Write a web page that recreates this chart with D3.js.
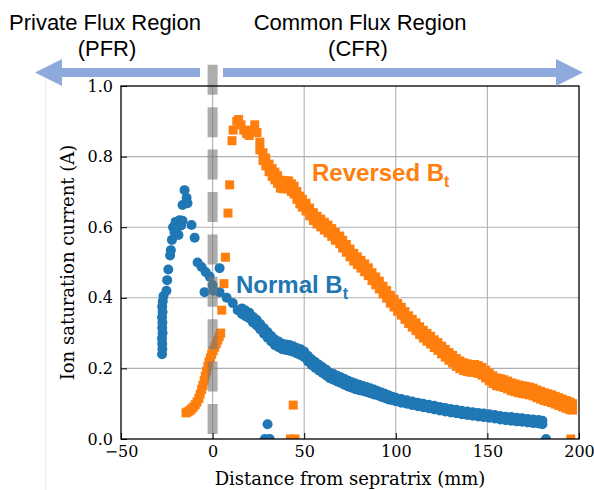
<!DOCTYPE html>
<html>
<head>
<meta charset="utf-8">
<script src="https://cdn.jsdelivr.net/npm/d3@7"></script>
<style>
  html, body { margin: 0; padding: 0; background: #fff; }
  svg { display: block; }
</style>
</head>
<body>
<svg id="chart" width="594" height="490"></svg>
<script>
// ---------------- DATA ----------------
const xTicks = [-50, 0, 50, 100, 150, 200];
const yTicks = [0.0, 0.2, 0.4, 0.6, 0.8, 1.0];
const xLabel = "Distance from sepratrix (mm)";
const yLabel = "Ion saturation current (A)";
const regionLeft = ["Private Flux Region", "(PFR)"];
const regionRight = ["Common Flux Region", "(CFR)"];

// Normal Bt (blue circles) — private-flux peak and separatrix points
const normalCoreX = [
  -27.6,-27.4,-27.5,-27.6,-27.3,-27.5,-27.4,-27.6,-27.3,-27.5,-27.2,-26.8,
  -25.2,-24.8,-24.2,-23.2,-22.8,-22.2,-21.6,-20.2,-18.0,-16.4,-20.8,-18.6,-19.5,-17.2,
  -16.4,-14.2,-13.7,-15.3,-11.5,-9.8,-8.2,-6.0,-3.8,-1.6,3.8,0.0,-4.4,0.5,3.8,7.7,11.0,13.7
];
const normalCoreY = [
  0.240,0.255,0.270,0.285,0.300,0.315,0.330,0.345,0.360,0.375,0.390,0.405,
  0.420,0.450,0.480,0.520,0.535,0.564,0.600,0.615,0.620,0.618,0.586,0.578,0.600,0.605,
  0.663,0.683,0.668,0.705,0.606,0.570,0.500,0.487,0.473,0.460,0.484,0.436,0.416,0.420,0.416,0.400,0.385,0.365
];
// Normal Bt common-flux decay: upper and lower edge of the band of points
const normalTailX = [
  16,18,20,22,24,26,28,30,32,34,36,38,40,42,44,46,48,50,
  52,54,56,58,60,62,64,66,68,70,72,74,76,78,80,82,
  84,86,88,90,92,94,96,98,100,103,106,109,112,115,118,121,
  124,127,130,133,136,139,142,145,148,151,154,157,160,163,166,169,
  172,175,178,180
];
const normalTailHi = [
  0.370,0.364,0.358,0.346,0.338,0.326,0.314,0.303,0.292,0.282,0.276,0.270,0.268,0.266,0.263,0.258,0.254,0.248,
  0.236,0.226,0.218,0.210,0.203,0.196,0.188,0.184,0.179,0.175,0.170,0.165,0.161,0.157,0.154,0.150,
  0.147,0.144,0.140,0.136,0.132,0.128,0.124,0.120,0.117,0.113,0.110,0.106,0.103,0.100,0.097,0.094,
  0.091,0.088,0.085,0.083,0.080,0.078,0.076,0.074,0.072,0.070,0.068,0.065,0.063,0.062,0.060,0.059,
  0.057,0.055,0.054,0.052
];
const normalTailLo = [
  0.354,0.348,0.342,0.330,0.322,0.310,0.298,0.287,0.276,0.266,0.260,0.254,0.252,0.250,0.247,0.242,0.238,0.232,
  0.220,0.210,0.202,0.194,0.187,0.180,0.172,0.168,0.163,0.159,0.154,0.149,0.145,0.141,0.138,0.136,
  0.133,0.130,0.126,0.124,0.120,0.116,0.112,0.110,0.107,0.103,0.100,0.096,0.093,0.090,0.087,0.084,
  0.081,0.078,0.075,0.073,0.070,0.068,0.066,0.064,0.062,0.060,0.058,0.055,0.053,0.052,0.050,0.049,
  0.047,0.045,0.044,0.042
];
const normalOutX = [30.0, 28.5, 31.2, 182.0];
const normalOutY = [0.042, 0.000, 0.000, 0.000];

// Reversed Bt (orange squares) — rise across the separatrix and peak
const reversedCoreX = [
  -14.5,-13.5,-12.5,-11.5,-10.5,-9.5,-8.5,-7.5,-6.8,-6.0,-5.3,-4.6,-4.0,-3.3,-2.6,-2.0,-1.2,-0.5,0.3,1.2,2.0,2.8,3.6,4.4,
  5.0,6.2,7.0,8.4,9.3,
  10.6,11.2,13.2,14.2,15.5,17,18.6,20,21.5,23,24.2
];
const reversedCoreY = [
  0.074,0.077,0.080,0.085,0.090,0.097,0.105,0.115,0.127,0.140,0.152,0.165,0.178,0.192,0.205,0.218,0.230,0.240,0.250,0.260,0.270,0.280,0.290,0.300,
  0.365,0.440,0.515,0.640,0.720,
  0.845,0.875,0.900,0.905,0.890,0.875,0.865,0.860,0.875,0.890,0.868
];
// Reversed Bt common-flux decay: upper and lower edge of the band of points
const reversedTailX = [
  25.8,27.5,29,30.8,32.5,34,35.5,37,38.5,40,41.5,43,44.5,46,47.6,49,
  51,53,55,57,59,61,63,65,67,69.4,71,73,75,77,79,81,83,85,87,89,
  91,93,95,97,99,101,103,105,107,109,111,113,115,117,119,121,
  123,125,127,129,131,133,135,137,139,141,143,145,147,149,151,153,
  155,157,159,161,163,165,167,169,171,173,175,177,179,181,183,185,
  187,189,191,193,195,196.5
];
const reversedTailHi = [
  0.841,0.811,0.796,0.779,0.766,0.756,0.746,0.733,0.731,0.731,0.731,0.723,0.716,0.701,0.688,0.679,
  0.668,0.654,0.641,0.631,0.623,0.614,0.606,0.596,0.585,0.575,0.563,0.551,0.538,0.526,0.516,0.506,0.496,0.485,0.471,0.459,
  0.447,0.433,0.421,0.407,0.396,0.384,0.373,0.361,0.349,0.339,0.329,0.318,0.308,0.299,0.291,0.281,
  0.273,0.263,0.254,0.245,0.237,0.228,0.221,0.216,0.213,0.211,0.211,0.208,0.203,0.195,0.187,0.179,
  0.173,0.171,0.168,0.164,0.159,0.156,0.153,0.151,0.149,0.147,0.144,0.139,0.135,0.131,0.128,0.125,
  0.121,0.117,0.113,0.109,0.105,0.100
];
const reversedTailLo = [
  0.819,0.789,0.774,0.757,0.744,0.734,0.724,0.711,0.709,0.709,0.709,0.701,0.694,0.679,0.666,0.657,
  0.646,0.632,0.619,0.609,0.601,0.592,0.584,0.574,0.563,0.553,0.541,0.529,0.516,0.504,0.494,0.484,0.474,0.463,0.449,0.437,
  0.425,0.411,0.399,0.385,0.374,0.362,0.351,0.339,0.327,0.317,0.307,0.296,0.286,0.277,0.269,0.259,
  0.251,0.241,0.232,0.223,0.215,0.206,0.199,0.194,0.191,0.189,0.189,0.186,0.181,0.173,0.165,0.157,
  0.151,0.149,0.146,0.142,0.137,0.134,0.131,0.129,0.127,0.125,0.122,0.117,0.113,0.109,0.106,0.103,
  0.099,0.095,0.091,0.087,0.083,0.082
];
const reversedOutX = [44.0, 42.5, 45.0, 195.5];
const reversedOutY = [0.096, 0.000, 0.000, 0.000];

// ---------------- LAYOUT ----------------
const W = 594, H = 490;
const plot = { left: 121, right: 579, top: 86, bottom: 439 };
const BLUE = "#1f77b4", ORANGE = "#ff7f0e", ARROW = "#8eaadc";
const SERIF = "'DejaVu Serif', serif";
const SANS = "'Liberation Sans', Arial, Helvetica, sans-serif";

const svg = d3.select("#chart");

const x = d3.scaleLinear().domain([-50, 200]).range([plot.left, plot.right]);
const y = d3.scaleLinear().domain([0, 1]).range([plot.bottom, plot.top]);

// faint compositing line at far left
svg.append("line").attr("x1", 45.5).attr("x2", 45.5).attr("y1", 70).attr("y2", H)
  .attr("stroke", "#ececec").attr("stroke-width", 1);

// clip
svg.append("defs").append("clipPath").attr("id", "clip")
  .append("rect").attr("x", plot.left).attr("y", plot.top)
  .attr("width", plot.right - plot.left).attr("height", plot.bottom - plot.top);

// grid
const grid = svg.append("g").attr("stroke", "#b0b0b0").attr("stroke-width", 1.1);
xTicks.slice(1, -1).forEach(t => {
  grid.append("line").attr("x1", x(t)).attr("x2", x(t)).attr("y1", plot.top).attr("y2", plot.bottom);
});
yTicks.slice(1, -1).forEach(t => {
  grid.append("line").attr("x1", plot.left).attr("x2", plot.right).attr("y1", y(t)).attr("y2", y(t));
});

// assemble point lists
const pts = (xs, ys) => xs.map((v, i) => ({ x: v, y: ys[i] }));
const normal = [].concat(
  pts(normalCoreX, normalCoreY),
  pts(normalTailX, normalTailHi),
  pts(normalTailX, normalTailLo),
  pts(normalOutX, normalOutY)
);
const reversed = [].concat(
  pts(reversedCoreX, reversedCoreY),
  pts(reversedTailX, reversedTailHi),
  pts(reversedTailX, reversedTailLo),
  pts(reversedOutX, reversedOutY)
);

// data
const marks = svg.append("g").attr("clip-path", "url(#clip)");
marks.selectAll("circle.n").data(normal).join("circle")
  .attr("class", "n")
  .attr("cx", d => x(d.x)).attr("cy", d => y(d.y)).attr("r", 5)
  .attr("fill", BLUE);

const sq = 9;
marks.selectAll("rect.r").data(reversed).join("rect")
  .attr("class", "r")
  .attr("x", d => x(d.x) - sq / 2).attr("y", d => y(d.y) - sq / 2)
  .attr("width", sq).attr("height", sq)
  .attr("fill", ORANGE);

// separatrix dashed line (extends above the axes)
svg.append("line")
  .attr("x1", x(0)).attr("x2", x(0))
  .attr("y1", y(1.06)).attr("y2", y(0))
  .attr("stroke", "#777").attr("stroke-opacity", 0.6)
  .attr("stroke-width", 10).attr("stroke-dasharray", "30,12.4");

// axes (inward ticks)
const xAxis = d3.axisBottom(x).tickValues(xTicks).tickFormat(d3.format("d"))
  .tickSizeInner(-6).tickSizeOuter(0).tickPadding(7);
const yAxis = d3.axisLeft(y).tickValues(yTicks).tickFormat(d3.format(".1f"))
  .tickSizeInner(-6).tickSizeOuter(0).tickPadding(8);

const gx = svg.append("g").attr("transform", `translate(0,${plot.bottom})`).call(xAxis);
const gy = svg.append("g").attr("transform", `translate(${plot.left},0)`).call(yAxis);
[gx, gy].forEach(g => {
  g.select(".domain").remove();
  g.selectAll(".tick line").attr("stroke", "#000").attr("stroke-width", 1);
  g.selectAll(".tick text").attr("font-family", SERIF).attr("font-size", 16).attr("fill", "#000");
});

// frame
svg.append("rect").attr("x", plot.left).attr("y", plot.top)
  .attr("width", plot.right - plot.left).attr("height", plot.bottom - plot.top)
  .attr("fill", "none").attr("stroke", "#000").attr("stroke-width", 1.3);

// axis labels
svg.append("text").attr("x", (plot.left + plot.right) / 2).attr("y", 485)
  .attr("text-anchor", "middle").attr("font-family", SERIF).attr("font-size", 18)
  .text(xLabel);
svg.append("text")
  .attr("transform", `translate(74,${(plot.top + plot.bottom) / 2}) rotate(-90)`)
  .attr("text-anchor", "middle").attr("font-family", SERIF).attr("font-size", 18)
  .text(yLabel);

// region arrows
const ay = 72.5, shaftH = 9, headH = 27, headL = 27;
const arrows = svg.append("g").attr("fill", ARROW);
arrows.append("path").attr("d",
  `M35,${ay} L${35 + headL},${ay - headH / 2} L${35 + headL},${ay - shaftH / 2} L200,${ay - shaftH / 2} L200,${ay + shaftH / 2} L${35 + headL},${ay + shaftH / 2} L${35 + headL},${ay + headH / 2} Z`);
arrows.append("path").attr("d",
  `M583,${ay} L${583 - headL},${ay - headH / 2} L${583 - headL},${ay - shaftH / 2} L223,${ay - shaftH / 2} L223,${ay + shaftH / 2} L${583 - headL},${ay + shaftH / 2} L${583 - headL},${ay + headH / 2} Z`);

// region text
const rt = svg.append("g").attr("font-family", SANS).attr("font-size", 22)
  .attr("text-anchor", "middle").attr("fill", "#000");
rt.append("text").attr("x", 105).attr("y", 30).text(regionLeft[0]);
rt.append("text").attr("x", 107).attr("y", 56).text(regionLeft[1]);
rt.append("text").attr("x", 360).attr("y", 30).text(regionRight[0]);
rt.append("text").attr("x", 358).attr("y", 56).text(regionRight[1]);

// series labels
function seriesLabel(px, py, color, main) {
  const t = svg.append("text").attr("x", px).attr("y", py)
    .attr("font-family", SANS).attr("font-weight", "bold").attr("font-size", 24)
    .attr("fill", color);
  t.append("tspan").text(main);
  t.append("tspan").attr("dy", 6).attr("font-size", 16).text("t");
}
seriesLabel(312, 181, ORANGE, "Reversed B");
seriesLabel(236, 293, BLUE, "Normal B");
</script>
</body>
</html>
